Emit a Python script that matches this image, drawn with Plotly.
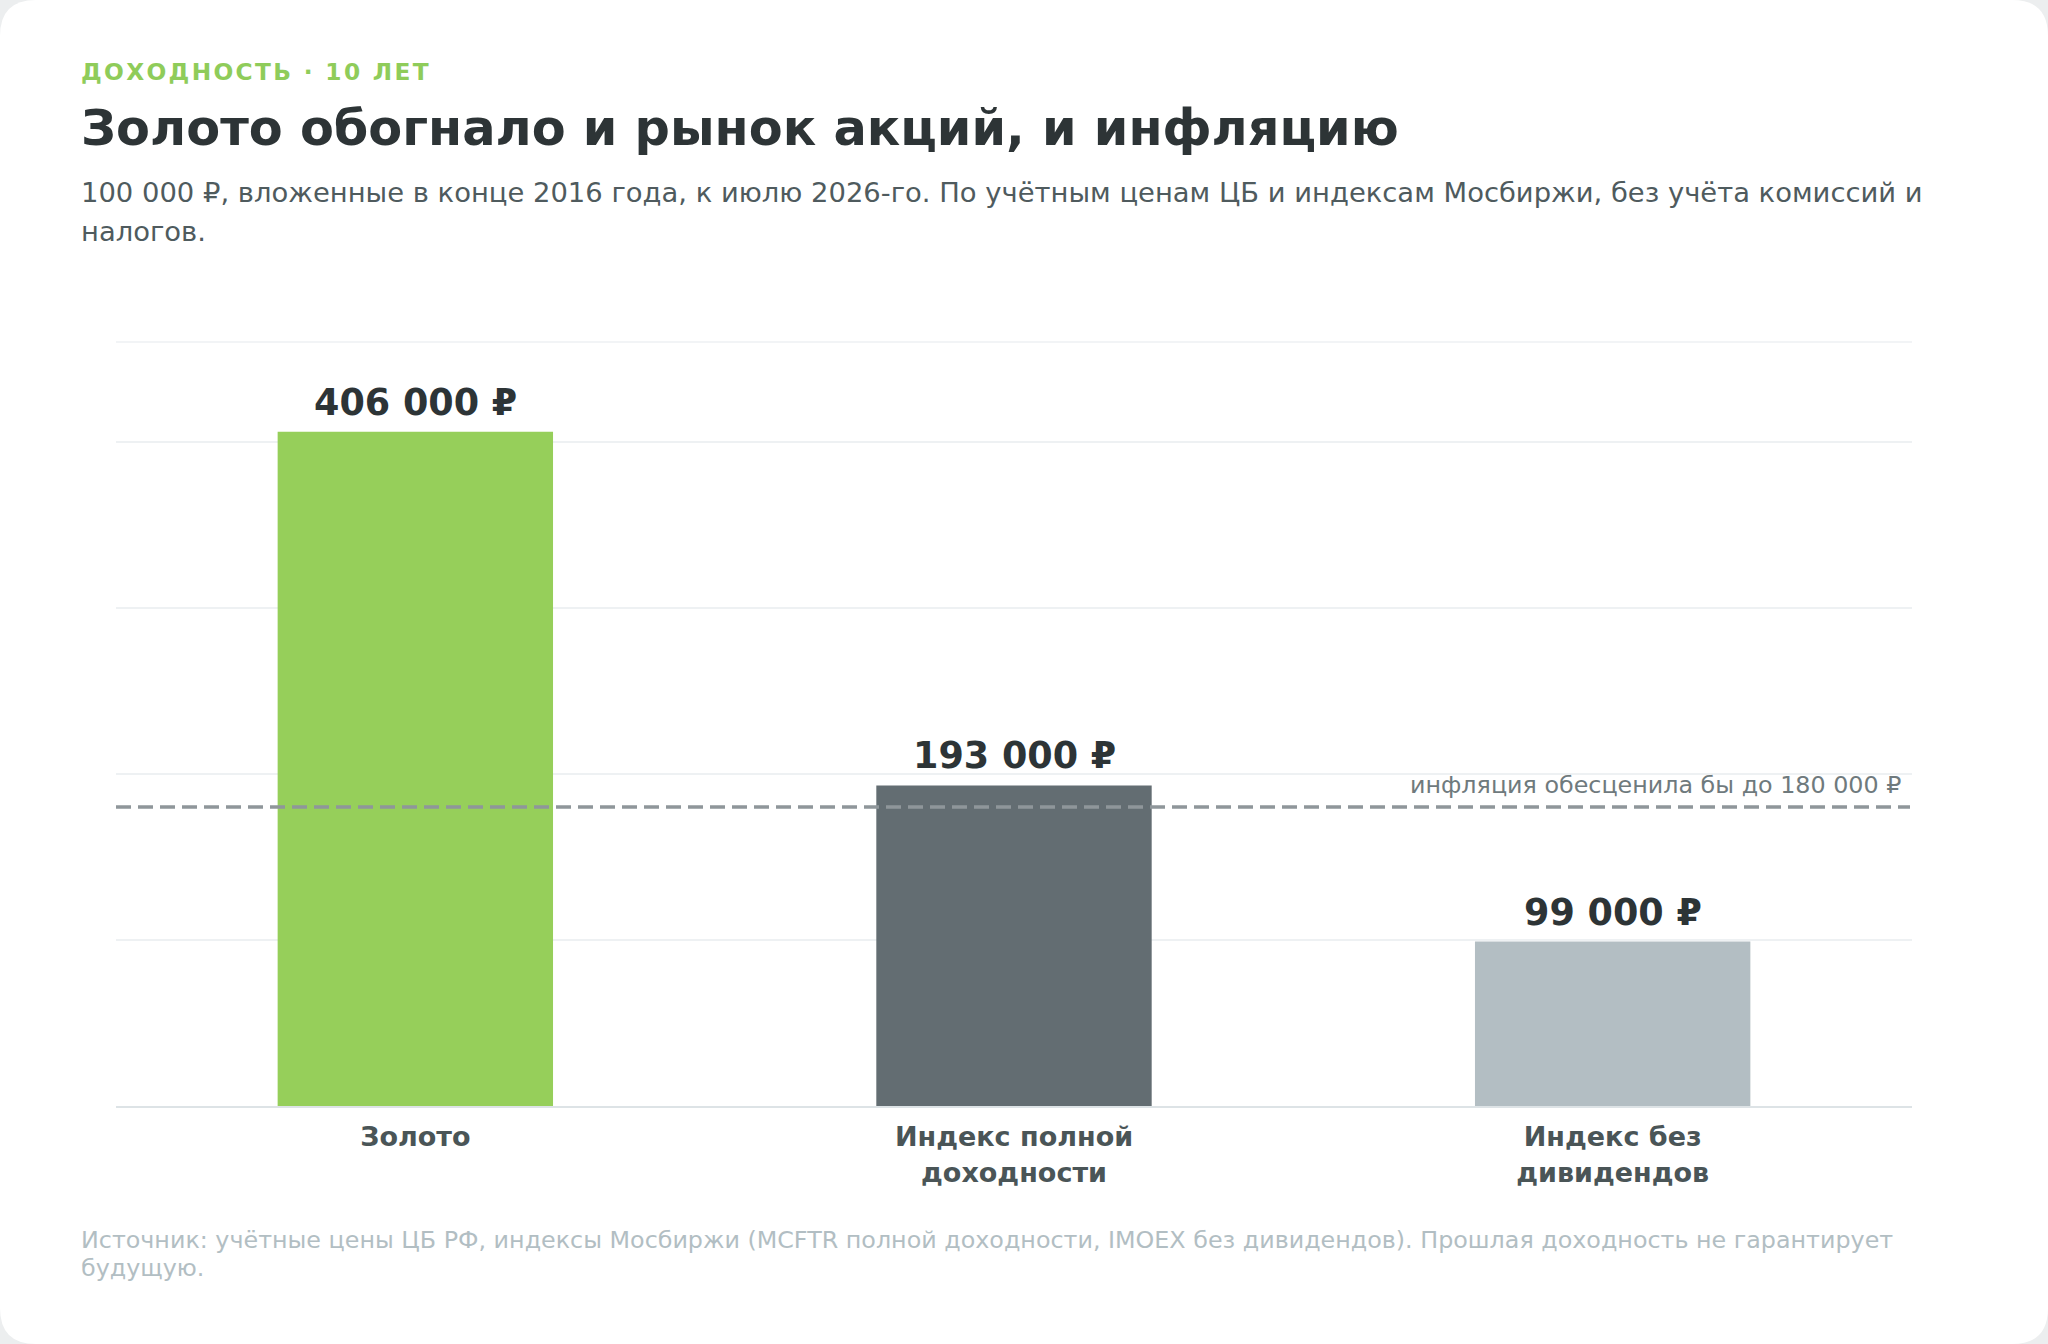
import plotly.graph_objects as go

# Data
categories = ["Золото", "Индекс полной доходности", "Индекс без дивидендов"]
tick_labels = ["Золото", "Индекс полной<br>доходности", "Индекс без<br>дивидендов"]
values = [406000, 193000, 99000]
bar_colors = ["#96cf5a", "#636d72", "#b3bec3"]
inflation_value = 180000
y_max = 460000

# Figure geometry (pixels)
W, H = 2048, 1344
L, R, T, B = 116, 136, 342, 238
pw = W - L - R
ph = H - T - B


def fx(px):
    return (px - L) / pw


def fy(py):
    return (H - B - py) / ph


def rub(v):
    return f"{v:,}".replace(",", " ") + " ₽"


def spaced(s):
    # crude letter-spacing with hair spaces
    return "\u200a".join(s)


fig = go.Figure()
fig.add_trace(go.Bar(
    x=categories,
    y=values,
    marker=dict(color=bar_colors, line=dict(width=0)),
    width=0.46,
    hoverinfo="skip",
))

# White card with rounded corners (drawn first, underneath everything)
r = 36
pts = [
    (r, 0), (W - r, 0), ("Q", W, 0, W, r), (W, H - r), ("Q", W, H, W - r, H),
    (r, H), ("Q", 0, H, 0, H - r), (0, r), ("Q", 0, 0, r, 0),
]
path = f"M {fx(r)},{fy(0)}"
for p in pts[1:]:
    if p[0] == "Q":
        path += f" Q {fx(p[1])},{fy(p[2])} {fx(p[3])},{fy(p[4])}"
    else:
        path += f" L {fx(p[0])},{fy(p[1])}"
path += " Z"
fig.add_shape(type="path", path=path, xref="paper", yref="paper",
              fillcolor="white", line=dict(width=0), layer="below")

# Top border of the plot area
fig.add_shape(
    type="line", xref="paper", yref="paper",
    x0=0, x1=1, y0=1, y1=1,
    line=dict(color="#eef1f3", width=1.5), layer="below",
)

# Value labels above bars
for cat, v in zip(categories, values):
    fig.add_annotation(
        x=cat, y=v, xref="x", yref="y",
        text=rub(v), showarrow=False,
        yanchor="bottom", yshift=6,
        font=dict(size=36.5, color="#2d3436", weight="bold"),
    )

# Inflation reference line
fig.add_shape(
    type="line", xref="paper", yref="y",
    x0=0, x1=fx(1910), y0=inflation_value, y1=inflation_value,
    line=dict(color="#8f969a", width=3.5, dash="15px,7px"),
)
fig.add_annotation(
    x=fx(1903), y=inflation_value, xref="paper", yref="y",
    text="инфляция обесценила бы до " + rub(inflation_value),
    showarrow=False, xanchor="right", yanchor="bottom", yshift=6,
    font=dict(size=23.8, color="#6f7a7d"),
)

# Header and footer texts
header = [
    (spaced("ДОХОДНОСТЬ · 10 ЛЕТ"), 72, 23.3, "#8fcc5a", "bold"),
    ("Золото обогнало и рынок акций, и инфляцию", 128, 49.4, "#2d3436", "bold"),
    ("100 000 ₽, вложенные в конце 2016 года, к июлю 2026-го. По учётным ценам ЦБ и "
     "индексам Мосбиржи, без учёта комиссий и", 192, 27.4, "#4f5b5e", "normal"),
    ("налогов.", 232, 27.4, "#4f5b5e", "normal"),
    ("Источник: учётные цены ЦБ РФ, индексы Мосбиржи (MCFTR полной доходности, "
     "IMOEX без дивидендов). Прошлая доходность не гарантирует", 1240, 23.8, "#b2bec3", "normal"),
    ("будущую.", 1268, 23.8, "#b2bec3", "normal"),
]
for text, py, size, color, weight in header:
    fig.add_annotation(
        x=fx(79), y=fy(py), xref="paper", yref="paper",
        text=text, showarrow=False, xanchor="left", yanchor="middle",
        font=dict(size=size, color=color, weight=weight),
    )

fig.update_layout(
    width=W, height=H,
    margin=dict(l=L, r=R, t=T, b=B),
    paper_bgcolor="#eceeef",
    plot_bgcolor="rgba(0,0,0,0)",
    font=dict(family="DejaVu Sans", color="#2d3436"),
    showlegend=False,
)
fig.update_xaxes(
    tickvals=categories, ticktext=tick_labels,
    tickfont=dict(size=27, color="#4a5557", weight="bold"),
    showline=True, linecolor="#dde3e6", linewidth=2,
    showgrid=False, ticks="", ticklabelstandoff=6,
)
fig.update_yaxes(
    range=[0, y_max], dtick=100000,
    showticklabels=False, showgrid=True,
    gridcolor="#eef1f3", gridwidth=1.5, zeroline=False,
)

fig.write_html("out.html", config={"displayModeBar": False},
               post_script="document.body.style.margin='0';")
